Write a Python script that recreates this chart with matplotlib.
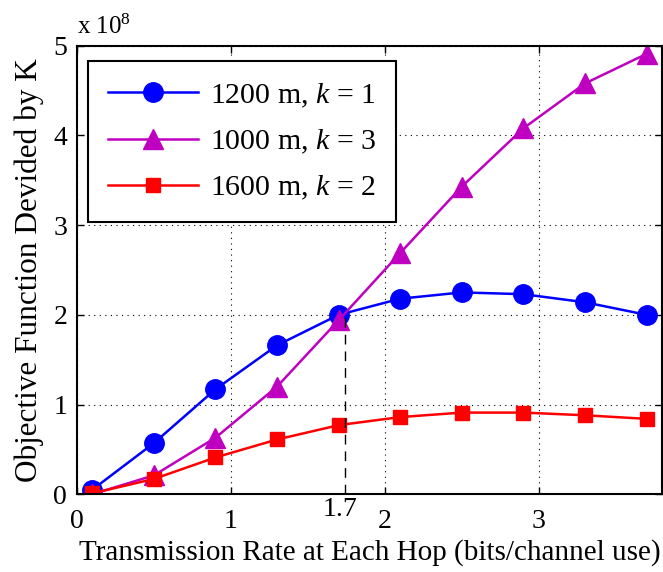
import numpy as np
import matplotlib
matplotlib.use('Agg')
import matplotlib.pyplot as plt

# Times-like look, like the MATLAB original
plt.rcParams['font.family'] = ['Liberation Serif', 'DejaVu Serif']
plt.rcParams['mathtext.fontset'] = 'custom'
plt.rcParams['mathtext.rm'] = 'Liberation Serif'
plt.rcParams['mathtext.it'] = 'Liberation Serif:italic'

# ---- data (values in units of 1e8) ----
rate = [0.1, 0.5, 0.9, 1.3, 1.7, 2.1, 2.5, 2.9, 3.3, 3.7]
obj_1200_k1 = [0.05, 0.57, 1.17, 1.66, 2.00, 2.18, 2.25, 2.23, 2.14, 2.00]
obj_1000_k3 = [0.00, 0.21, 0.63, 1.20, 1.94, 2.69, 3.43, 4.08, 4.58, 4.91]
obj_1600_k2 = [0.01, 0.17, 0.41, 0.61, 0.77, 0.86, 0.91, 0.91, 0.88, 0.84]
labels = ['1200 m, $k$ = 1', '1000 m, $k$ = 3', '1600 m, $k$ = 2']
xticks = [0, 1, 2, 3]
yticks = [0, 1, 2, 3, 4, 5]

# crossing of the k=1 and k=3 curves (where the dashed line goes)
r = np.array(rate)
d = np.array(obj_1000_k3) - np.array(obj_1200_k1)
i = np.where((d[:-1] < 0) & (d[1:] >= 0))[0][0]
t = -d[i] / (d[i + 1] - d[i])
x_cross = r[i] + t * (r[i + 1] - r[i])
y_cross = obj_1200_k1[i] + t * (obj_1200_k1[i + 1] - obj_1200_k1[i])

fig = plt.figure(figsize=(6.63, 5.72), dpi=100)
ax = fig.add_axes([0.116, 0.136, 0.8825, 0.784])

ax.plot(rate, obj_1200_k1, '-o', color='#0000ff', lw=1.8, ms=14, label=labels[0])
ax.plot(rate, obj_1000_k3, '-^', color='#c000c0', lw=1.8, ms=15, label=labels[1])
ax.plot(rate, obj_1600_k2, '-s', color='#ff0000', lw=1.8, ms=10, label=labels[2])
ax.plot([x_cross, x_cross], [0, y_cross], '--', color='black', lw=1.0, dashes=(7, 5))

ax.set_xlim(0, 3.8)
ax.set_ylim(0, 5)
ax.set_xticks(xticks)
ax.set_yticks(yticks)
ax.grid(True, linestyle=(0, (1, 4)), color='black', lw=0.8)
ax.tick_params(direction='in', length=5, width=1, labelsize=20, top=True, right=True)
ax.tick_params(axis='x', pad=11)
ax.tick_params(axis='y', pad=7)
for s in ax.spines.values():
    s.set_linewidth(1.5)

# extra 1.7 label under the dashed line
ax.text(1.71, -0.03, '1.7', fontsize=20, ha='center', va='top')
ax.text(0.0, 5.13, r'x 10$^{8}$', fontsize=18, ha='left', va='baseline')

ax.set_xlabel('Transmission Rate at Each Hop (bits/channel use)', fontsize=21, labelpad=3)
ax.set_ylabel('Objective Function Devided by K', fontsize=22.5, labelpad=7)

leg = ax.legend(loc='upper left', bbox_to_anchor=(0.019, 0.966), fontsize=21.5,
                fancybox=False, framealpha=1, edgecolor='black', borderpad=0.68,
                handlelength=3.0, handletextpad=0.4, labelspacing=0.6, borderaxespad=0)
leg.get_frame().set_linewidth(1.5)

fig.savefig('out.png', dpi=100)
